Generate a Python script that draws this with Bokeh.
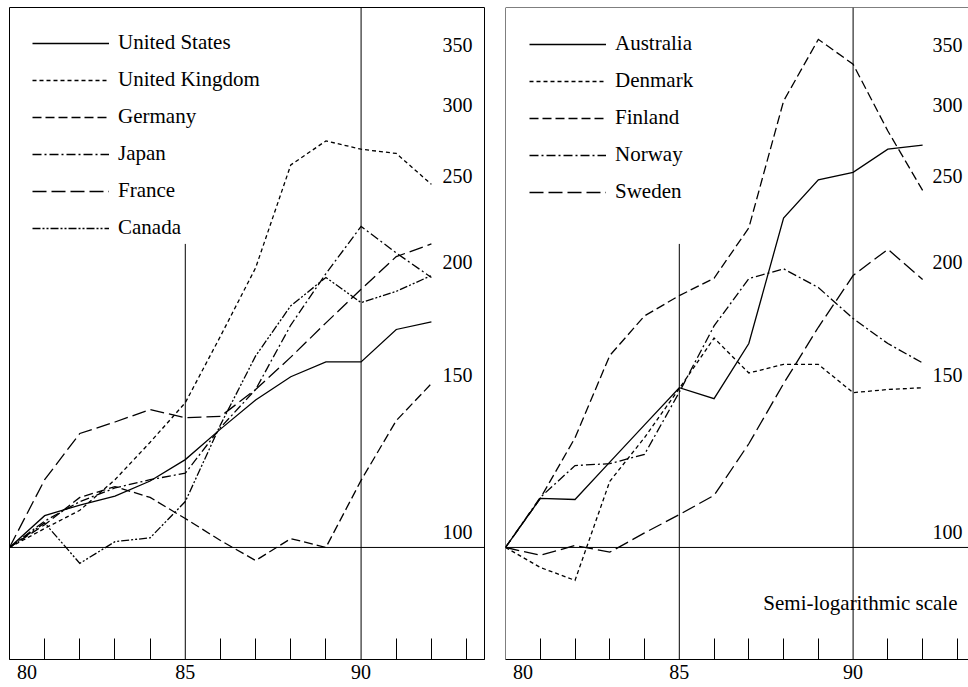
from bokeh.plotting import figure
from bokeh.models import Range1d, Span, Label, Legend, LegendItem, FixedTicker
from bokeh.layouts import row
from bokeh.embed import file_html
from bokeh.resources import INLINE
from bokeh.core.properties import value

# ---------------- data (index, 1980 = 100) ----------------
years = [80, 81, 82, 83, 84, 85, 86, 87, 88, 89, 90, 91, 92]

united_states = [100, 108.5, 111.5, 114.1, 118.6, 125.3, 135.5, 146, 155, 161, 161, 175, 178.5]
united_kingdom = [100, 105, 110, 119, 131, 145, 172, 205, 267, 284, 278, 275, 254]
germany = [100, 106, 113.7, 116.9, 113.7, 107.7, 101.8, 96.7, 102.3, 100, 118.8, 138.5, 152.3]
japan = [100, 107, 112.5, 116.5, 119, 121, 136, 150, 177, 202, 228, 213, 200]
france = [100, 119, 134, 138, 142.5, 139.5, 140, 150, 163, 178, 194, 211, 218]
canada = [100, 106.5, 96, 101.5, 102.5, 112.5, 137, 163.5, 186, 200, 187.5, 193, 201]

australia = [100, 113.4, 113.1, 124.5, 137, 150.7, 146.5, 168.8, 233, 257, 262, 278, 281]
denmark = [100, 95, 91.9, 118.5, 132.6, 150.4, 171.2, 156.5, 160, 160, 148.8, 150, 150.7]
finland = [100, 113.4, 132.5, 163.7, 181.2, 190.9, 199.6, 227.2, 314.6, 368.6, 345.8, 291.3, 250.1]
norway = [100, 113.7, 123.4, 124, 127, 149, 176.6, 199.4, 204.5, 194.9, 180, 168.8, 160.6]
sweden = [100, 98, 100.5, 98.8, 103.8, 108.8, 114.3, 130.5, 152.3, 176, 201, 215, 199]

left_names = ["United States", "United Kingdom", "Germany", "Japan", "France", "Canada"]
right_names = ["Australia", "Denmark", "Finland", "Norway", "Sweden"]

y_tick_values = [100, 150, 200, 250, 300, 350]
y_tick_labels = ["100", "150", "200", "250", "300", "350"]
x_label_positions = [80.5, 85, 90]
x_tick_labels = ["80", "85", "90"]
minor_tick_years = [81, 82, 83, 84, 86, 87, 88, 89, 91, 92, 93]
note_text = "Semi-logarithmic scale"

# ---------------- styles ----------------
FONT = "Liberation Serif"
SOLID = "solid"
SHORT = "4 3"
MEDIUM = "9 4"
DASHDOT = "9 3 2 3"
DASHDOTDOT = "8 2 2 2 2 2"
LONG = "14 5"

left_dashes = [SOLID, SHORT, MEDIUM, DASHDOT, LONG, DASHDOTDOT]
right_dashes = [SOLID, SHORT, MEDIUM, DASHDOT, LONG]

Y_MIN, Y_MAX = 75, 400
PARTIAL_LINE_YEAR = 85
PARTIAL_LINE_TOP = 218
FULL_LINE_YEAR = 90
NOTE_Y = 86.6


def make_panel(series, names, dashes, width, border_left, border_right, x_end,
               label_x_offset, legend_margin, full_outline):
    p = figure(width=width, height=687,
               x_range=Range1d(80, x_end), y_range=Range1d(Y_MIN, Y_MAX),
               y_axis_type="log", y_axis_location=None,
               output_backend="svg", toolbar_location=None,
               min_border_left=border_left, min_border_right=border_right,
               min_border_top=7, min_border_bottom=28)
    p.grid.visible = False
    p.background_fill_color = "white"
    p.border_fill_color = "white"
    if full_outline:
        p.outline_line_color = "black"
        p.outline_line_width = 1
    else:
        p.outline_line_color = None
        p.add_layout(Span(location=80, dimension="height", line_color="black", line_width=1))
        p.add_layout(Span(location=Y_MAX, dimension="width", line_color="black", line_width=1))

    ax = p.xaxis[0]
    ax.ticker = FixedTicker(ticks=x_label_positions, minor_ticks=minor_tick_years)
    ax.major_label_overrides = dict(zip(x_label_positions, x_tick_labels))
    ax.major_tick_line_color = None
    ax.major_tick_in = 0
    ax.major_tick_out = 0
    ax.minor_tick_in = 21
    ax.minor_tick_out = 0
    ax.minor_tick_line_color = "black"
    ax.minor_tick_line_width = 1
    ax.axis_line_color = "black"
    ax.axis_line_width = 1
    ax.major_label_standoff = 5
    ax.major_label_text_font = FONT
    ax.major_label_text_font_size = "20px"
    ax.major_label_text_color = "black"

    # reference lines
    p.add_layout(Span(location=100, dimension="width", line_color="black", line_width=1))
    p.add_layout(Span(location=FULL_LINE_YEAR, dimension="height", line_color="black", line_width=1))
    p.segment(x0=[PARTIAL_LINE_YEAR], y0=[Y_MIN], x1=[PARTIAL_LINE_YEAR], y1=[PARTIAL_LINE_TOP],
              line_color="black", line_width=1)

    items = []
    for vals, name, dash in zip(series, names, dashes):
        r = p.line(years, vals, line_color="black", line_width=1.3, line_dash=dash,
                   line_join="miter")
        items.append(LegendItem(label=name, renderers=[r]))

    legend = Legend(items=items, location="top_left", padding=0, margin=legend_margin,
                    spacing=12, glyph_width=77, glyph_height=24, label_height=24,
                    label_standoff=9, label_text_font=FONT, label_text_font_size="21px",
                    label_text_color="black", border_line_color=None,
                    background_fill_alpha=0)
    p.add_layout(legend)

    p.text(x=[x_end] * len(y_tick_values), y=y_tick_values, text=y_tick_labels,
           text_font=value(FONT), text_font_size="20px", text_color="black",
           text_align="right", text_baseline="middle",
           x_offset=label_x_offset, y_offset=-15)
    return p


left = make_panel([united_states, united_kingdom, germany, japan, france, canada],
                  left_names, left_dashes, width=490, border_left=9, border_right=6,
                  x_end=93.51, label_x_offset=-12, legend_margin=23, full_outline=True)

right = make_panel([australia, denmark, finland, norway, sweden],
                   right_names, right_dashes, width=478, border_left=15, border_right=0,
                   x_end=93.32, label_x_offset=-6, legend_margin=24, full_outline=False)

right.add_layout(Label(x=93.32, y=NOTE_Y, x_offset=-11, text=note_text,
                       text_font=FONT, text_font_size="21px", text_color="black",
                       text_align="right", text_baseline="middle"))

layout = row(left, right)
open("out.html", "w").write(file_html(layout, INLINE, "Semi-logarithmic chart"))
